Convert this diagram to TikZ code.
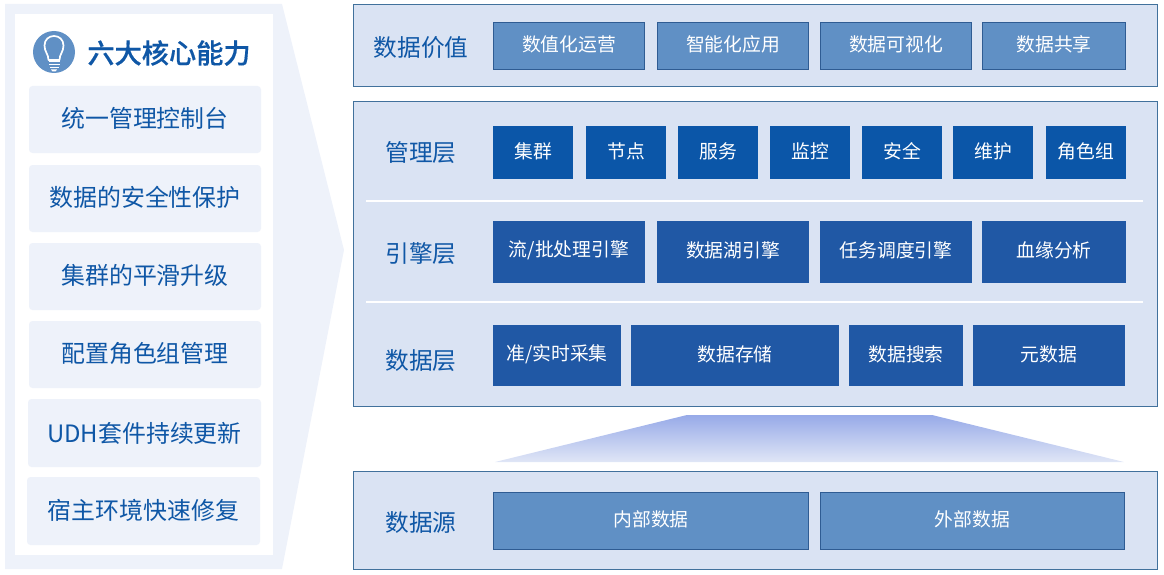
\documentclass[tikz,border=0pt]{standalone}
\usepackage{fontspec}
\setmainfont{Noto Sans CJK SC}
\newfontfamily\titlefont[FakeBold=0.4]{Noto Sans CJK SC Medium}
\newcommand\lifted[2][1.3pt]{\raisebox{#1}[\height][\depth]{#2}}
\definecolor{txtblue}{HTML}{0F57A6}
\definecolor{palebg}{HTML}{EEF2FA}
\definecolor{panelbg}{HTML}{DAE3F3}
\definecolor{panelln}{HTML}{41719C}
\definecolor{midblue}{HTML}{6090C5}
\definecolor{midln}{HTML}{2F5C93}
\definecolor{deepblue}{HTML}{0B56A8}
\definecolor{navyblue}{HTML}{2058A5}
\definecolor{gradtop}{HTML}{97AAE8}
\definecolor{gradbot}{HTML}{E0E6F6}
\tikzset{
  pxbox/.style n args={4}{minimum width=(#3-#1)*1pt,minimum height=(#4-#2)*1pt,inner sep=0pt,outer sep=0pt,anchor=center,at={({(#1+#3)/2},{(#2+#4)/2})}},
  side/.style={fill=palebg,rounded corners=3.5pt,text=txtblue,font=\fontsize{23.9}{26}\selectfont},
  panel/.style={fill=panelbg,draw=panelln,line width=1pt},
  light/.style={fill=midblue,draw=midln,line width=0.9pt,text=white,font=\fontsize{18.8}{22}\selectfont},
  deep/.style={fill=deepblue,text=white,font=\fontsize{18.8}{22}\selectfont},
  navy/.style={fill=navyblue,text=white,font=\fontsize{18.8}{22}\selectfont},
  layer/.style={text=txtblue,font=\fontsize{23.7}{26}\selectfont,inner sep=0pt},
  sep/.style={draw=white,line width=1.6pt},
}
\begin{document}
\begin{tikzpicture}[x=1pt,y=-1pt]
\useasboundingbox (0,0) rectangle (1164,575);
% left arrow-shaped background
\fill[palebg] (5,4) -- (282,4) -- (344,250) -- (282,569) -- (5,569) -- cycle;
\fill[white] (15,14) rectangle (273,555);
% bulb icon
\node[circle,fill=midblue,minimum size=42pt,inner sep=0pt] (bulb) at (54,52) {};
\draw[white,line width=1.7pt,line join=round] (48.5,60) .. controls (48.5,54) and (44.5,52) .. (44.5,45.5) .. controls (44.5,39.5) and (49,36) .. (54,36) .. controls (59,36) and (63.5,39.5) .. (63.5,45.5) .. controls (63.5,52) and (59.5,54) .. (59.5,60) -- cycle;
\fill[white] (48.5,60.5) rectangle (60,62.2);
\fill[white] (49,63.8) rectangle (59.5,65.5);
\fill[white] (49.5,67) rectangle (59,68.5);
\fill[white] (51,69.5) -- (57,69.5) -- (55.5,71.5) -- (52.5,71.5) -- cycle;
\node[text=txtblue,inner sep=0pt,font=\fontsize{27.2}{30}\selectfont\titlefont] (title) at (169,53) {六大核心能力};
% left items
\node[side,pxbox={29}{86}{261}{153}] (s1) {\lifted[1pt]{统一管理控制台}};
\node[side,pxbox={29}{165}{261}{232}] (s2) {\lifted[1pt]{数据的安全性保护}};
\node[side,pxbox={29}{243}{261}{310}] (s3) {\lifted[1pt]{集群的平滑升级}};
\node[side,pxbox={29}{321}{261}{388}] (s4) {\lifted[1pt]{配置角色组管理}};
\node[side,pxbox={28}{399}{261}{467}] (s5) {UDH套件持续更新};
\node[side,pxbox={27}{477}{260}{545}] (s6) {\lifted[0.5pt]{宿主环境快速修复}};
% panels
\node[panel,pxbox={353.5}{4.5}{1157.5}{86.5}] (pv) {};
\node[panel,pxbox={353.5}{101.5}{1157.5}{406.5}] (pm) {};
\node[panel,pxbox={353.5}{471.5}{1157.5}{569.5}] (ps) {};
% gradient funnel
\shade[top color=gradtop,bottom color=gradbot] (687,415) -- (932,415) -- (1124,462) -- (495,462) -- cycle;
% layer labels
\node[layer] (l1) at (421,47.6) {数据价值};
\node[layer] (l2) at (421,152.6) {管理层};
\node[layer] (l3) at (421,253.4) {引擎层};
\node[layer] (l4) at (421,360.4) {数据层};
\node[layer] (l5) at (421,522.4) {数据源};
% separators
\coordinate (a1) at (366,201); \coordinate (a2) at (1143,201);
\coordinate (b1) at (366,302); \coordinate (b2) at (1143,302);
\draw[sep] (a1) -- (a2);
\draw[sep] (b1) -- (b2);
% value row
\node[light,pxbox={493.5}{22.5}{644.5}{69.5}] (v1) {\lifted{数值化运营}};
\node[light,pxbox={657.5}{22.5}{808.5}{69.5}] (v2) {\lifted{智能化应用}};
\node[light,pxbox={820.5}{22.5}{971.5}{69.5}] (v3) {\lifted{数据可视化}};
\node[light,pxbox={982.5}{22.5}{1125.5}{69.5}] (v4) {\lifted{数据共享}};
% management row
\node[deep,pxbox={493}{126}{573}{179}] (m1) {\lifted{集群}};
\node[deep,pxbox={586}{126}{666}{179}] (m2) {\lifted{节点}};
\node[deep,pxbox={678}{126}{758}{179}] (m3) {\lifted{服务}};
\node[deep,pxbox={770}{126}{850}{179}] (m4) {\lifted{监控}};
\node[deep,pxbox={862}{126}{942}{179}] (m5) {\lifted{安全}};
\node[deep,pxbox={953}{126}{1033}{179}] (m6) {\lifted{维护}};
\node[deep,pxbox={1046}{126}{1126}{179}] (m7) {\lifted{角色组}};
% engine row
\node[navy,pxbox={493}{221}{645}{283}] (e1) {\lifted{流/批处理引擎}};
\node[navy,pxbox={657}{221}{809}{283}] (e2) {\lifted{数据湖引擎}};
\node[navy,pxbox={820}{221}{972}{283}] (e3) {\lifted{任务调度引擎}};
\node[navy,pxbox={982}{221}{1126}{283}] (e4) {\lifted{血缘分析}};
% data row
\node[navy,pxbox={493}{325}{621}{386}] (d1) {\lifted{准/实时采集}};
\node[navy,pxbox={631}{325}{839}{386}] (d2) {\lifted{数据存储}};
\node[navy,pxbox={849}{325}{963}{386}] (d3) {\lifted{数据搜索}};
\node[navy,pxbox={973}{325}{1125}{386}] (d4) {\lifted{元数据}};
% source row
\node[light,pxbox={493.5}{492.5}{808.5}{549.5}] (o1) {\lifted{内部数据}};
\node[light,pxbox={820.5}{492.5}{1124.5}{549.5}] (o2) {\lifted{外部数据}};
\end{tikzpicture}
\end{document}
